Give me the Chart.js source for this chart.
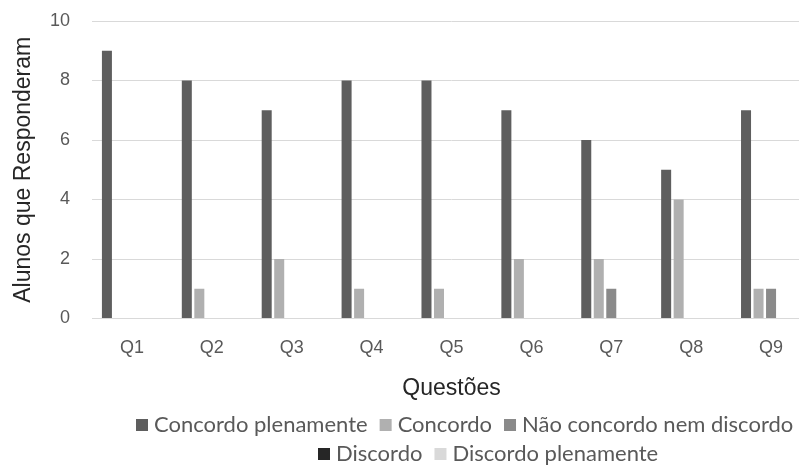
<!DOCTYPE html>
<html lang="pt">
<head>
<meta charset="utf-8">
<script src="https://cdn.jsdelivr.net/npm/chart.js@4.4.1/dist/chart.umd.min.js"></script>
<style>
  html, body { margin: 0; padding: 0; background: #ffffff; overflow: hidden; width: 799px; height: 466px; }
  #wrap { position: absolute; left: 0; top: 0; width: 811px; height: 466px; }
</style>
</head>
<body>
<div id="wrap"><canvas id="chart" width="811" height="466"></canvas></div>
<script>
// Questions on the category axis
const categories = ['Q1', 'Q2', 'Q3', 'Q4', 'Q5', 'Q6', 'Q7', 'Q8', 'Q9'];

// Answer options (Likert scale)
const seriesNames = ['Concordo plenamente', 'Concordo', 'Não concordo nem discordo', 'Discordo', 'Discordo plenamente'];

// Number of students per answer, per question
const concordoPlenamente     = [9, 8, 7, 8, 8, 7, 6, 5, 7];
const concordo               = [0, 1, 2, 1, 1, 2, 2, 4, 1];
const naoConcordoNemDiscordo = [0, 0, 0, 0, 0, 0, 1, 0, 1];
const discordo               = [0, 0, 0, 0, 0, 0, 0, 0, 0];
const discordoPlenamente     = [0, 0, 0, 0, 0, 0, 0, 0, 0];

// Value axis ticks
const yTicks = [0, 2, 4, 6, 8, 10];

const seriesValues = [concordoPlenamente, concordo, naoConcordoNemDiscordo, discordo, discordoPlenamente];
const seriesColors = ['#5e5e5e', '#b0b0b0', '#8a8a8a', '#262626', '#d9d9d9'];

// Legend laid out in two rows below the axis title
const legendRows = [
  { items: [0, 1, 2], x: 136, y: 425 },
  { items: [3, 4], x: 318, y: 454 }
];

const bottomLegend = {
  id: 'bottomLegend',
  afterDraw(chart) {
    const ctx = chart.ctx;
    ctx.save();
    ctx.font = '22px Lato, "Open Sans", sans-serif';
    ctx.textBaseline = 'middle';
    ctx.textAlign = 'left';
    const box = 12;
    legendRows.forEach(row => {
      let x = row.x;
      row.items.forEach(i => {
        const ds = chart.data.datasets[i];
        ctx.fillStyle = ds.backgroundColor;
        ctx.fillRect(x, row.y - box / 2, box, box);
        x += box + 6;
        ctx.fillStyle = '#595959';
        ctx.fillText(ds.label, x, row.y);
        x += ctx.measureText(ds.label).width + 12;
      });
    });
    ctx.restore();
  }
};

new Chart(document.getElementById('chart'), {
  type: 'bar',
  data: {
    labels: categories,
    datasets: seriesNames.map((name, i) => ({
      label: name,
      data: seriesValues[i],
      backgroundColor: seriesColors[i],
      borderWidth: 0,
      categoryPercentage: 0.783,
      barPercentage: 0.8
    }))
  },
  options: {
    responsive: false,
    animation: false,
    devicePixelRatio: 1,
    layout: { padding: { top: 21, left: 0, right: 0, bottom: 0 } },
    plugins: {
      legend: { display: false },
      tooltip: { enabled: false }
    },
    scales: {
      x: {
        grid: { display: false, drawTicks: false },
        border: { display: true, color: '#d9d9d9', width: 1 },
        ticks: {
          color: '#595959',
          font: { family: '"Liberation Sans", Arial, sans-serif', size: 18 },
          padding: 19
        },
        title: {
          display: true,
          text: 'Questões',
          color: '#262626',
          font: { family: '"Liberation Sans", Arial, sans-serif', size: 23 },
          padding: { top: 0, bottom: 64 }
        },
        afterFit(scale) { scale.height = 147.5; }
      },
      y: {
        min: 0,
        max: 10,
        grid: { color: '#d9d9d9', lineWidth: 1, drawTicks: false },
        border: { display: false },
        afterBuildTicks(scale) { scale.ticks = yTicks.map(v => ({ value: v })); },
        ticks: {
          color: '#595959',
          font: { family: '"Liberation Sans", Arial, sans-serif', size: 18 },
          padding: 22
        },
        title: {
          display: true,
          text: 'Alunos que Responderam',
          color: '#262626',
          font: { family: '"Liberation Sans", Arial, sans-serif', size: 23 },
          padding: { top: 10, bottom: 0 }
        },
        afterFit(scale) {
          scale.width = 92;
          // only half a label of room is needed above the top tick
          scale.paddingTop = 10;
          scale.paddingBottom = 10;
        }
      }
    }
  },
  plugins: [bottomLegend]
});
</script>
</body>
</html>
